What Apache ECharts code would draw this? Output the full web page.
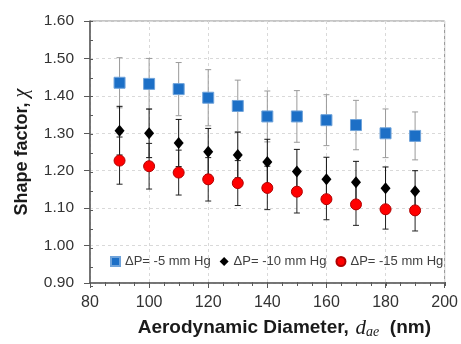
<!DOCTYPE html>
<html>
<head>
<meta charset="utf-8">
<script src="https://cdn.jsdelivr.net/npm/echarts@6/dist/echarts.min.js"></script>
<style>html,body{margin:0;padding:0;background:#fff;}#chart{width:461px;height:344px;}</style>
</head>
<body>
<div id="chart"></div>
<script>
const xValues = [90, 100, 110, 120, 130, 140, 150, 160, 170, 180, 190];
const blueY = [1.435, 1.432, 1.418, 1.395, 1.373, 1.345, 1.345, 1.335, 1.322, 1.300, 1.293];
const blueErr = [0.067, 0.068, 0.071, 0.075, 0.069, 0.068, 0.069, 0.068, 0.066, 0.065, 0.064];
const blackY = [1.307, 1.300, 1.274, 1.251, 1.242, 1.223, 1.198, 1.177, 1.169, 1.153, 1.145];
const blackErr = [0.065, 0.065, 0.063, 0.062, 0.061, 0.061, 0.059, 0.059, 0.056, 0.057, 0.055];
const redY = [1.227, 1.212, 1.195, 1.177, 1.167, 1.154, 1.144, 1.124, 1.110, 1.097, 1.094];
const redErr = [0.063, 0.061, 0.060, 0.058, 0.060, 0.058, 0.057, 0.055, 0.056, 0.053, 0.055];
const seriesNames = ['ΔP= -5 mm Hg', 'ΔP= -10 mm Hg', 'ΔP= -15 mm Hg'];
const xTicks = { min: 80, max: 200, interval: 20 };
const yTicks = { min: 0.9, max: 1.6, interval: 0.1 };

const FONT = 'Liberation Sans, Arial, sans-serif';
const chart = echarts.init(document.getElementById('chart'), null, { renderer: 'canvas' });

function pts(ys) { return xValues.map((x, i) => [x, ys[i]]); }
function errData(ys, es) { return xValues.map((x, i) => [x, ys[i] - es[i], ys[i] + es[i]]); }
function errSeries(ys, es, color, z) {
  return {
    type: 'custom', z: z, silent: true,
    data: errData(ys, es),
    encode: { x: 0, y: [1, 2] },
    renderItem: function (params, api) {
      const x = api.value(0);
      const p1 = api.coord([x, api.value(1)]);
      const p2 = api.coord([x, api.value(2)]);
      const w = 3;
      const st = { stroke: color, lineWidth: 1 };
      return {
        type: 'group',
        children: [
          { type: 'line', shape: { x1: p1[0], y1: p1[1], x2: p2[0], y2: p2[1] }, style: st },
          { type: 'line', shape: { x1: p1[0] - w, y1: p1[1], x2: p1[0] + w, y2: p1[1] }, style: st },
          { type: 'line', shape: { x1: p2[0] - w, y1: p2[1], x2: p2[0] + w, y2: p2[1] }, style: st }
        ]
      };
    }
  };
}

const gridRect = { left: 90, right: 16, top: 21, bottom: 58 };

const option = {
  animation: false,
  textStyle: { fontFamily: FONT },
  grid: [
    Object.assign({ show: true, borderColor: '#8c8c8c', borderWidth: 1 }, gridRect),
    Object.assign({ show: false }, gridRect)
  ],
  legend: {
    left: 105, top: 250, width: 380,
    itemWidth: 9, itemHeight: 9, itemGap: 9,
    textStyle: { fontFamily: FONT, fontSize: 13, color: '#404040' },
    data: [
      { name: seriesNames[0], icon: 'rect' },
      { name: seriesNames[1], icon: 'diamond' },
      { name: seriesNames[2], icon: 'circle' }
    ]
  },
  xAxis: [
    {
      type: 'value', gridIndex: 0, min: xTicks.min, max: xTicks.max, interval: xTicks.interval,
      axisLine: { show: true, lineStyle: { color: '#595959', width: 1.5 } },
      axisTick: { show: true, inside: false, length: 5, lineStyle: { color: '#595959' } },
      minorTick: { show: false },
      axisLabel: { fontSize: 16, color: '#333', margin: 12, fontFamily: FONT },
      splitLine: { show: true, lineStyle: { color: '#d9d9d9', type: [3, 3] } },
      name: '{b|Aerodynamic Diameter,}  {m|d}{s|ae}{b|  (nm)}',
      nameLocation: 'middle', nameGap: 34,
      nameTextStyle: {
        padding: [0, 0, 0, 34],
        rich: {
          b: { fontSize: 19, fontWeight: 'bold', color: '#1a1a1a', fontFamily: FONT, lineHeight: 22 },
          m: { fontSize: 21, fontStyle: 'italic', color: '#1a1a1a', fontFamily: 'Liberation Serif, DejaVu Serif, serif', lineHeight: 22 },
          s: { fontSize: 14, fontStyle: 'italic', color: '#1a1a1a', fontFamily: 'Liberation Serif, DejaVu Serif, serif', lineHeight: 12, verticalAlign: 'bottom' }
        }
      }
    },
    {
      type: 'value', gridIndex: 1, min: xTicks.min, max: xTicks.max, interval: xTicks.interval,
      axisLine: { show: false },
      axisTick: { show: true, inside: true, length: 4, lineStyle: { color: '#595959' } },
      minorTick: { show: true, splitNumber: 4, length: 4, lineStyle: { color: '#595959' } },
      axisLabel: { show: false },
      splitLine: { show: false }
    }
  ],
  yAxis: [
    {
      type: 'value', gridIndex: 0, min: yTicks.min, max: yTicks.max, interval: yTicks.interval,
      axisLine: { show: true, lineStyle: { color: '#595959', width: 1.5 } },
      axisTick: { show: true, inside: false, length: 6, lineStyle: { color: '#595959' } },
      minorTick: { show: false },
      axisLabel: { fontSize: 15.5, color: '#333', margin: 16, fontFamily: FONT, formatter: v => v.toFixed(2) },
      splitLine: { show: true, lineStyle: { color: '#d9d9d9', type: [3, 3] } },
      name: '{b|Shape factor, }{m|χ}',
      nameLocation: 'middle', nameRotate: 90, nameGap: 58,
      nameTextStyle: {
        rich: {
          b: { fontSize: 18, fontWeight: 'bold', color: '#1a1a1a', fontFamily: FONT },
          m: { fontSize: 20, fontStyle: 'italic', color: '#1a1a1a', fontFamily: 'Liberation Serif, DejaVu Serif, serif' }
        }
      }
    },
    {
      type: 'value', gridIndex: 1, min: yTicks.min, max: yTicks.max, interval: yTicks.interval,
      axisLine: { show: false },
      axisTick: { show: true, inside: true, length: 3, lineStyle: { color: '#595959' } },
      minorTick: { show: true, splitNumber: 2, length: 3, lineStyle: { color: '#595959' } },
      axisLabel: { show: false },
      splitLine: { show: false }
    }
  ],
  series: [
    errSeries(blueY, blueErr, '#9a9a9a', 2),
    errSeries(blackY, blackErr, '#111', 3),
    errSeries(redY, redErr, '#222', 4),
    {
      name: seriesNames[0], type: 'scatter', z: 5, symbol: 'rect', symbolSize: 11,
      itemStyle: { color: '#1c6fc6', borderColor: '#6fa3da', borderWidth: 1, opacity: 1 },
      data: pts(blueY)
    },
    {
      name: seriesNames[1], type: 'scatter', z: 6, symbol: 'diamond', symbolSize: [10, 12],
      itemStyle: { color: '#000', opacity: 1 },
      data: pts(blackY)
    },
    {
      name: seriesNames[2], type: 'scatter', z: 7, symbol: 'circle', symbolSize: 11,
      itemStyle: { color: '#ff0000', borderColor: '#b00000', borderWidth: 1, opacity: 1 },
      data: pts(redY)
    }
  ]
};
chart.setOption(option);
</script>
</body>
</html>
